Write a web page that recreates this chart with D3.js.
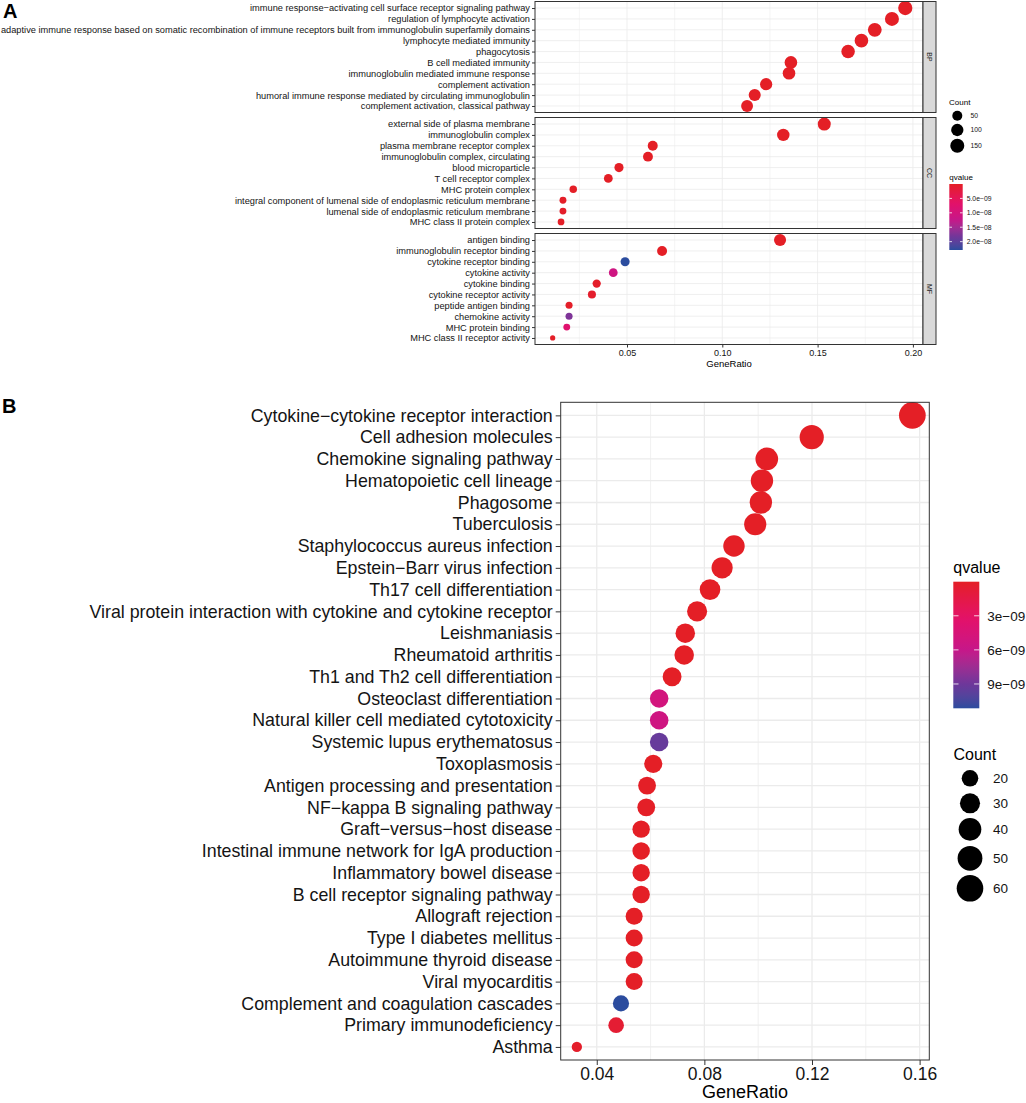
<!DOCTYPE html>
<html>
<head>
<meta charset="utf-8">
<script src="https://cdn.jsdelivr.net/npm/d3@7"></script>
<style>
  body { margin: 0; background: #fff; }
  text { font-family: "Liberation Sans", Arial, sans-serif; }
</style>
</head>
<body>
<svg width="1026" height="1103"></svg>
<script>
// ---- panel A data (GO enrichment, three facets) ----
const bpTerms = [
  'immune response\u2212activating cell surface receptor signaling pathway',
  'regulation of lymphocyte activation',
  'adaptive immune response based on somatic recombination of immune receptors built from immunoglobulin superfamily domains',
  'lymphocyte mediated immunity',
  'phagocytosis',
  'B cell mediated immunity',
  'immunoglobulin mediated immune response',
  'complement activation',
  'humoral immune response mediated by circulating immunoglobulin',
  'complement activation, classical pathway'
];
const bpRatio = [0.196, 0.189, 0.180, 0.173, 0.166, 0.136, 0.135, 0.123, 0.117, 0.113];
const bpCount = [157, 151, 144, 138, 133, 109, 108, 98, 94, 90];
const bpQ = [2e-40, 5e-38, 1e-36, 3e-35, 8e-34, 2e-30, 3e-30, 4e-28, 6e-27, 9e-26];

const ccTerms = [
  'external side of plasma membrane',
  'immunoglobulin complex',
  'plasma membrane receptor complex',
  'immunoglobulin complex, circulating',
  'blood microparticle',
  'T cell receptor complex',
  'MHC protein complex',
  'integral component of lumenal side of endoplasmic reticulum membrane',
  'lumenal side of endoplasmic reticulum membrane',
  'MHC class II protein complex'
];
const ccRatio = [0.1535, 0.132, 0.0635, 0.061, 0.0458, 0.0402, 0.0218, 0.0164, 0.0164, 0.0154];
const ccCount = [120, 103, 50, 48, 36, 31, 17, 13, 13, 12];
const ccQ = [4e-35, 2e-33, 1e-15, 3e-14, 2e-12, 5e-13, 6e-11, 3e-10, 4e-10, 2e-10];

const mfTerms = [
  'antigen binding',
  'immunoglobulin receptor binding',
  'cytokine receptor binding',
  'cytokine activity',
  'cytokine binding',
  'cytokine receptor activity',
  'peptide antigen binding',
  'chemokine activity',
  'MHC protein binding',
  'MHC class II receptor activity'
];
const mfRatio = [0.1303, 0.0684, 0.049, 0.0428, 0.0341, 0.0316, 0.0196, 0.0196, 0.0184, 0.011];
const mfCount = [94, 49, 35, 31, 25, 23, 14, 14, 13, 8];
const mfQ = [1e-30, 5e-20, 2.29e-8, 1.1e-8, 4e-10, 6e-10, 3e-10, 1.75e-8, 7.5e-9, 2e-10];

const facetNames = ['BP', 'CC', 'MF'];
const aTicks = [0.05, 0.10, 0.15, 0.20];
const aCountBreaks = [50, 100, 150];
const aQBreaks = [5e-9, 1e-8, 1.5e-8, 2e-8];

// ---- panel B data (KEGG enrichment) ----
const keggTerms = [
  'Cytokine\u2212cytokine receptor interaction',
  'Cell adhesion molecules',
  'Chemokine signaling pathway',
  'Hematopoietic cell lineage',
  'Phagosome',
  'Tuberculosis',
  'Staphylococcus aureus infection',
  'Epstein\u2212Barr virus infection',
  'Th17 cell differentiation',
  'Viral protein interaction with cytokine and cytokine receptor',
  'Leishmaniasis',
  'Rheumatoid arthritis',
  'Th1 and Th2 cell differentiation',
  'Osteoclast differentiation',
  'Natural killer cell mediated cytotoxicity',
  'Systemic lupus erythematosus',
  'Toxoplasmosis',
  'Antigen processing and presentation',
  'NF\u2212kappa B signaling pathway',
  'Graft\u2212versus\u2212host disease',
  'Intestinal immune network for IgA production',
  'Inflammatory bowel disease',
  'B cell receptor signaling pathway',
  'Allograft rejection',
  'Type I diabetes mellitus',
  'Autoimmune thyroid disease',
  'Viral myocarditis',
  'Complement and coagulation cascades',
  'Primary immunodeficiency',
  'Asthma'
];
const keggRatio = [0.1573, 0.1199, 0.1032, 0.1014, 0.1010, 0.0989, 0.0910, 0.0866, 0.0821, 0.0773,
                   0.0729, 0.0725, 0.0680, 0.0632, 0.0632, 0.0632, 0.0610, 0.0587, 0.0584, 0.0565,
                   0.0565, 0.0565, 0.0565, 0.0539, 0.0539, 0.0539, 0.0539, 0.0490, 0.0472, 0.0326];
const keggCount = [61, 47, 40, 39, 39, 38, 35, 34, 32, 30,
                   28, 28, 26, 25, 25, 25, 24, 23, 23, 22,
                   22, 22, 22, 21, 21, 21, 21, 19, 18, 13];
const keggQ = [2e-40, 5e-25, 3e-20, 2e-22, 4e-21, 6e-19, 1e-18, 2e-16, 3e-16, 5e-14,
               2e-13, 3e-13, 4e-12, 5.0e-9, 5.3e-9, 9.3e-9, 2e-11, 3e-11, 5e-11, 1e-12,
               2e-12, 3e-12, 4e-11, 1e-11, 2e-11, 3e-11, 4e-11, 1.114e-8, 6e-10, 2e-10];
const bTicks = [0.04, 0.08, 0.12, 0.16];
const bCountBreaks = [20, 30, 40, 50, 60];
const bQBreaks = [3e-9, 6e-9, 9e-9];

// ---- shared helpers ----
const svg = d3.select('svg');
// red -> magenta -> purple -> blue, as in the printed gradient
const Q_COLORS = ['#E41F26', '#E3116A', '#C5178A', '#70369A', '#2B4C9E'];
const Q_STOPS = [0, 0.3, 0.55, 0.8, 1];
const GRID = '#EBEBEB', BORDER = '#333333';
const minus = s => s.replace('-', '\u2212');

// ggplot style area scale: radius grows with sqrt of the rescaled count
function sizeScale(counts, rMin, rMax) {
  const lin = d3.scaleLinear().domain(d3.extent(counts)).range([0, 1]);
  const sq = d3.scaleSqrt().domain([0, 1]).range([rMin, rMax]);
  return c => sq(lin(c));
}
function colorScale(qs) {
  const [lo, hi] = d3.extent(qs);
  return d3.scaleLinear().domain(Q_STOPS.map(t => lo + t * (hi - lo))).range(Q_COLORS)
    .interpolate(d3.interpolateLab);
}

function minorOf(ticks) {
  const step = ticks[1] - ticks[0];
  const ext = [ticks[0] - step, ...ticks, ticks[ticks.length - 1] + step];
  return ext.slice(1).map((t, i) => (t + ext[i]) / 2);
}

function drawPanel(o) {
  const g = svg.append('g');
  const y = d3.scalePoint().domain(o.terms).range([o.top, o.top + o.height]).padding(0.6);
  const [x0, x1] = o.x.range();

  g.append('rect').attr('x', x0).attr('y', o.top).attr('width', x1 - x0).attr('height', o.height)
    .attr('fill', '#fff');

  // grid
  g.selectAll('.minor').data(minorOf(o.ticks).filter(v => o.x(v) > x0 && o.x(v) < x1)).join('line')
    .attr('x1', d => o.x(d)).attr('x2', d => o.x(d)).attr('y1', o.top).attr('y2', o.top + o.height)
    .attr('stroke', GRID).attr('stroke-width', o.minorW);
  g.selectAll('.major').data(o.ticks).join('line')
    .attr('x1', d => o.x(d)).attr('x2', d => o.x(d)).attr('y1', o.top).attr('y2', o.top + o.height)
    .attr('stroke', GRID).attr('stroke-width', o.majorW);
  g.selectAll('.hgrid').data(o.terms).join('line')
    .attr('x1', x0).attr('x2', x1).attr('y1', d => y(d)).attr('y2', d => y(d))
    .attr('stroke', GRID).attr('stroke-width', o.majorW);

  // points
  g.selectAll('circle').data(o.terms.map((t, i) => ({ t, r: o.ratio[i], c: o.count[i], q: o.q[i] })))
    .join('circle')
    .attr('cx', d => o.x(d.r)).attr('cy', d => y(d.t))
    .attr('r', d => o.size(d.c)).attr('fill', d => o.color(d.q));

  g.append('rect').attr('x', x0).attr('y', o.top).attr('width', x1 - x0).attr('height', o.height)
    .attr('fill', 'none').attr('stroke', BORDER).attr('stroke-width', 1);

  // y axis
  const ya = g.append('g').attr('transform', `translate(${x0},0)`)
    .call(d3.axisLeft(y).tickSize(o.tickLen).tickPadding(o.tickPad));
  ya.select('.domain').remove();
  ya.selectAll('line').attr('stroke', BORDER);
  ya.selectAll('text').attr('font-size', o.font).attr('fill', '#141414')
    .attr('font-family', '"Liberation Sans", Arial, sans-serif');
  return g;
}

function drawXAxis(x, ticks, yPos, o) {
  const xa = svg.append('g').attr('transform', `translate(0,${yPos})`)
    .call(d3.axisBottom(x).tickValues(ticks).tickFormat(o.fmt).tickSize(o.tickLen).tickPadding(o.tickPad));
  xa.select('.domain').remove();
  xa.selectAll('line').attr('stroke', BORDER);
  xa.selectAll('text').attr('font-size', o.font).attr('fill', '#141414')
    .attr('font-family', '"Liberation Sans", Arial, sans-serif');
  const [a, b] = x.range();
  svg.append('text').attr('x', (a + b) / 2).attr('y', o.titleY).attr('text-anchor', 'middle')
    .attr('font-size', o.titleFont).attr('fill', '#000').text('GeneRatio');
}

function drawColorbar(color, breaks, o) {
  const id = 'grad' + o.id;
  const dom = color.domain();
  const q0 = dom[0], q1 = dom[dom.length - 1];
  const grad = svg.append('defs').append('linearGradient').attr('id', id)
    .attr('x1', 0).attr('x2', 0).attr('y1', 0).attr('y2', 1);
  const stops = d3.scaleLinear().domain([q0, q1]).ticks(24);
  grad.selectAll('stop').data([q0, ...stops, q1]).join('stop')
    .attr('offset', d => (d - q0) / (q1 - q0)).attr('stop-color', d => color(d));
  const yq = d3.scaleLinear().domain([q0, q1]).range([o.top, o.top + o.h]);
  svg.append('text').attr('x', o.x).attr('y', o.top - o.titleGap).attr('font-size', o.titleFont)
    .attr('fill', '#000').text('qvalue');
  svg.append('rect').attr('x', o.x).attr('y', o.top).attr('width', o.w).attr('height', o.h)
    .attr('fill', `url(#${id})`);
  const tk = svg.append('g');
  breaks.forEach(v => {
    tk.append('line').attr('x1', o.x).attr('x2', o.x + o.w / 5).attr('y1', yq(v)).attr('y2', yq(v))
      .attr('stroke', '#fff').attr('stroke-opacity', 0.8);
    tk.append('line').attr('x1', o.x + o.w * 4 / 5).attr('x2', o.x + o.w).attr('y1', yq(v)).attr('y2', yq(v))
      .attr('stroke', '#fff').attr('stroke-opacity', 0.8);
    tk.append('text').attr('x', o.x + o.w + o.labGap).attr('y', yq(v)).attr('dy', '0.35em')
      .attr('font-size', o.labFont).attr('fill', '#141414').text(o.fmt(v));
  });
}

function drawSizeLegend(size, breaks, o) {
  svg.append('text').attr('x', o.x).attr('y', o.titleY).attr('font-size', o.titleFont)
    .attr('fill', '#000').text('Count');
  breaks.forEach((b, i) => {
    svg.append('circle').attr('cx', o.cx).attr('cy', o.ys[i]).attr('r', size(b)).attr('fill', '#000');
    svg.append('text').attr('x', o.labX).attr('y', o.ys[i]).attr('dy', '0.35em')
      .attr('font-size', o.labFont).attr('fill', '#141414').text(b);
  });
}

// ---- panel A ----
const xA = d3.scaleLinear().domain([0.00173, 0.2053]).range([535, 923]);
const allCountA = [...bpCount, ...ccCount, ...mfCount];
const sizeA = sizeScale(allCountA, 2.62, 7.11);
const colorA = colorScale([...bpQ, ...ccQ, ...mfQ]);
const facets = [
  [bpTerms, bpRatio, bpCount, bpQ],
  [ccTerms, ccRatio, ccCount, ccQ],
  [mfTerms, mfRatio, mfCount, mfQ]
];
const facetH = 111, facetGap = 5, facetTop = 1.5;
facets.forEach(([terms, ratio, count, q], i) => {
  const top = facetTop + i * (facetH + facetGap);
  drawPanel({ terms, ratio, count, q, x: xA, top, height: facetH, ticks: aTicks,
    size: sizeA, color: colorA, font: 9.25, tickLen: 3, tickPad: 2, majorW: 0.8, minorW: 0.5 });
  svg.append('rect').attr('x', 923).attr('y', top).attr('width', 13).attr('height', facetH)
    .attr('fill', '#D9D9D9').attr('stroke', BORDER).attr('stroke-width', 1);
  svg.append('text').attr('transform', `translate(929.5,${top + facetH / 2}) rotate(90)`)
    .attr('text-anchor', 'middle').attr('dy', '0.35em').attr('font-size', 7).attr('fill', '#1a1a1a')
    .text(facetNames[i]);
});
drawXAxis(xA, aTicks, facetTop + 3 * facetH + 2 * facetGap,
  { fmt: d3.format('.2f'), font: 9, tickLen: 3, tickPad: 2, titleY: 367, titleFont: 9.5 });

drawSizeLegend(sizeA, aCountBreaks,
  { x: 949, titleY: 104.5, titleFont: 8, cx: 957.3, ys: [115.7, 130, 145.7], labX: 970.5, labFont: 6.8 });
drawColorbar(colorA, aQBreaks,
  { id: 'A', x: 949.3, top: 184, w: 13.4, h: 66, titleGap: 4.5, titleFont: 8, labGap: 4, labFont: 6.8,
    fmt: v => minus(d3.format('.1e')(v).replace(/e([+-])(\d)$/, 'e$10$2')) });

// ---- panel B ----
const xB = d3.scaleLinear().domain([0.0266, 0.1636]).range([560.7, 929.3]);
const sizeB = sizeScale(keggCount, 5.16, 13.38);
const colorB = colorScale(keggQ);
drawPanel({ terms: keggTerms, ratio: keggRatio, count: keggCount, q: keggQ, x: xB, top: 402.3,
  height: 657.7, ticks: bTicks, size: sizeB, color: colorB, font: 17.8, tickLen: 5, tickPad: 3,
  majorW: 1.3, minorW: 0.7 });
drawXAxis(xB, bTicks, 1060,
  { fmt: d3.format('.2f'), font: 17.5, tickLen: 5, tickPad: 3, titleY: 1098, titleFont: 18 });

drawColorbar(colorB, bQBreaks,
  { id: 'B', x: 953.3, top: 581.7, w: 26, h: 126.6, titleGap: 9, titleFont: 16, labGap: 8, labFont: 13.5,
    fmt: v => minus(d3.format('.0e')(v).replace(/e([+-])(\d)$/, 'e$10$2')) });
drawSizeLegend(sizeB, bCountBreaks,
  { x: 953.5, titleY: 760, titleFont: 16, cx: 970, ys: [778.3, 803.3, 829.3, 858.3, 888.3], labX: 993, labFont: 13.5 });

// ---- panel letters ----
svg.append('text').attr('x', 3).attr('y', 18).attr('font-size', 20).attr('font-weight', 'bold').text('A');
svg.append('text').attr('x', 2).attr('y', 413).attr('font-size', 20).attr('font-weight', 'bold').text('B');
</script>
</body>
</html>
